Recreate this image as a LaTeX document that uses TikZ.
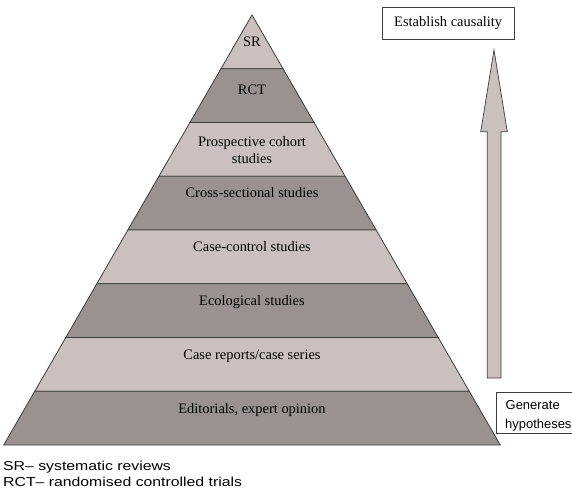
\documentclass[tikz,border=0pt]{standalone}
\usepackage{fontspec}
\setmainfont{Liberation Serif}
\setsansfont{Liberation Sans}
\newfontfamily\legfont[FakeStretch=1.22]{Liberation Sans}
\definecolor{bandlight}{RGB}{201,192,191}
\definecolor{banddark}{RGB}{153,146,145}
\definecolor{edgegray}{RGB}{60,60,60}
\tikzset{
  bandshape/.style={draw=edgegray, line width=0.8bp, line join=miter},
  bandlabel/.style={font=\fontsize{14.5}{17.3}\selectfont, inner sep=0pt, anchor=base},
  sidebox/.style={draw=edgegray, line width=0.7bp, fill=white, inner sep=0pt},
  legendtext/.style={font=\legfont\fontsize{13}{16}\selectfont, inner sep=0pt, anchor=base west},
  sidetext/.style={font=\sffamily\fontsize{13}{16}\selectfont, inner sep=0pt, anchor=base west}
}
\begin{document}
\begin{tikzpicture}[x=1bp,y=-1bp]
\useasboundingbox (0,0) rectangle (572,490);
% pyramid bands
\foreach \i/\c in {0/bandlight,1/banddark,2/bandlight,3/banddark,4/bandlight,5/banddark,6/bandlight,7/banddark}{
  \pgfmathsetmacro\yt{15+53.75*\i}
  \pgfmathsetmacro\yb{\yt+53.75}
  \pgfmathsetmacro\wt{(\yt-15)*0.57735}
  \pgfmathsetmacro\wb{(\yb-15)*0.57735}
  \path[bandshape, fill=\c] (252-\wt,\yt) -- (252+\wt,\yt) -- (252+\wb,\yb) -- (252-\wb,\yb) -- cycle;
}
% labels
\node[bandlabel] (sr) at (252,47) {SR};
\node[bandlabel] (rct) at (252,95) {RCT};
\node[bandlabel, align=center, anchor=center] (pcs) at (252,150) {Prospective cohort\\studies};
\node[bandlabel] (xs) at (252,198) {Cross-sectional studies};
\node[bandlabel] (cc) at (252,251) {Case-control studies};
\node[bandlabel] (eco) at (252,305) {Ecological studies};
\node[bandlabel] (crs) at (252,359) {Case reports/case series};
\node[bandlabel] (edo) at (252,413) {Editorials, expert opinion};
% arrow
\path[draw=edgegray, line width=0.7bp, fill=bandlight, line join=miter]
  (494,50) -- (507.3,131.7) -- (501,131.7) -- (501,378) -- (487.3,378) -- (487.3,131.7) -- (480.7,131.7) -- cycle;
% side boxes
\node[sidebox, minimum width=132.3bp, minimum height=32.6bp, anchor=north west,
      font=\fontsize{14.5}{17}\selectfont] (ec) at (381.7,6.7) {Establish causality};
\node[sidebox, minimum width=75.5bp, minimum height=41.3bp, anchor=north west] (gh) at (496,391.7) {};
\node[sidetext] (gh1) at (505.5,409) {Generate};
\node[sidetext] (gh2) at (505,428) {hypotheses};
% legend
\node[legendtext] (leg1) at (3,470) {SR– systematic reviews};
\node[legendtext] (leg2) at (3,486.5) {RCT– randomised controlled trials};
\end{tikzpicture}
\end{document}
